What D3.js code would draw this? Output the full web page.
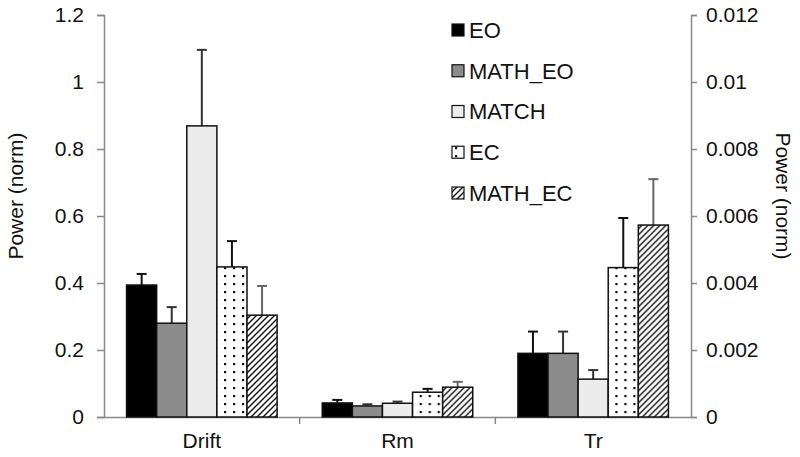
<!DOCTYPE html>
<html>
<head>
<meta charset="utf-8">
<script src="https://cdn.jsdelivr.net/npm/d3@7"></script>
<style>
  body { margin: 0; background: #fff; }
  svg { display: block; font-family: "Liberation Sans", Arial, sans-serif; }
</style>
</head>
<body>
<svg id="chart" width="800" height="457"></svg>
<script>
const categories = ["Drift", "Rm", "Tr"];
const series = ["EO", "MATH_EO", "MATCH", "EC", "MATH_EC"];
const axisSide = ["left", "left", "right"];
const driftValues = [0.394, 0.28, 0.869, 0.448, 0.304];
const driftErrors = [0.033, 0.048, 0.227, 0.077, 0.087];
const rmValues = [0.042, 0.033, 0.041, 0.074, 0.089];
const rmErrors = [0.009, 0.005, 0.005, 0.010, 0.016];
const trValues = [0.0019, 0.0019, 0.00113, 0.00446, 0.00573];
const trErrors = [0.00065, 0.00065, 0.00027, 0.00148, 0.00137];
const leftTicks = [0, 0.2, 0.4, 0.6, 0.8, 1, 1.2];
const rightTicks = [0, 0.002, 0.004, 0.006, 0.008, 0.01, 0.012];
const yTitle = "Power (norm)";

const values = [driftValues, rmValues, trValues];
const errors = [driftErrors, rmErrors, trErrors];

const svg = d3.select("#chart");
const mLeft = 104, mRight = 691, mTop = 15, mBottom = 417;

const x0 = d3.scaleBand().domain(categories).range([mLeft, mRight]).padding(0);
const x1 = d3.scaleBand().domain(series).range([0, x0.bandwidth()]).paddingInner(0).paddingOuter(0.75);
const yL = d3.scaleLinear().domain([0, 1.2]).range([mBottom, mTop]);
const yR = d3.scaleLinear().domain([0, 0.012]).range([mBottom, mTop]);

// patterns
const defs = svg.append("defs");
const dots = defs.append("pattern").attr("id", "dots").attr("patternUnits", "userSpaceOnUse")
  .attr("width", 9).attr("height", 8);
dots.append("rect").attr("width", 9).attr("height", 8).attr("fill", "#fff");
dots.append("rect").attr("x", 3).attr("y", 3).attr("width", 2.2).attr("height", 2.2).attr("fill", "#111");
const hatch = defs.append("pattern").attr("id", "hatch").attr("patternUnits", "userSpaceOnUse")
  .attr("width", 6).attr("height", 6);
hatch.append("rect").attr("width", 6).attr("height", 6).attr("fill", "#fff");
hatch.append("path").attr("d", "M-1,7 L7,-1 M-4,4 L4,-4 M2,10 L10,2").attr("stroke", "#111").attr("stroke-width", 1.4);

const fills = {EO: "#000", MATH_EO: "#8c8c8c", MATCH: "#ececec", EC: "url(#dots)", MATH_EC: "url(#hatch)"};
const errColor = {EO: "#111", MATH_EO: "#333", MATCH: "#333", EC: "#111", MATH_EC: "#666"};

const fontSize = 21;

// axes
const gL = svg.append("g").attr("transform", `translate(${mLeft},0)`)
  .call(d3.axisLeft(yL).tickValues(leftTicks).tickSize(7).tickPadding(13).tickFormat(d => d3.format("~g")(d)));
const gR = svg.append("g").attr("transform", `translate(${mRight},0)`)
  .call(d3.axisRight(yR).tickValues(rightTicks).tickSize(6).tickPadding(9).tickFormat(d => d === 0 ? "0" : d3.format("~g")(d)));
[gL, gR].forEach(g => {
  g.select(".domain").attr("stroke", "#888").attr("stroke-width", 1.5);
  g.selectAll(".tick line").attr("stroke", "#888").attr("stroke-width", 1.5);
  g.selectAll(".tick text").attr("font-size", fontSize).attr("fill", "#111")
    .attr("font-family", "Liberation Sans, Arial, sans-serif");
});

// x baseline and category ticks
const gX = svg.append("g").attr("transform", `translate(0,${mBottom})`)
  .call(d3.axisBottom(x0).tickSize(0).tickPadding(16));
gX.select(".domain").attr("stroke", "#888").attr("stroke-width", 1.5);
gX.selectAll(".tick text").attr("font-size", fontSize).attr("fill", "#111")
  .attr("font-family", "Liberation Sans, Arial, sans-serif");
svg.append("g").selectAll("line").data(categories.slice(1)).join("line")
  .attr("x1", d => x0(d)).attr("x2", d => x0(d))
  .attr("y1", mBottom).attr("y2", mBottom + 7)
  .attr("stroke", "#888").attr("stroke-width", 1.5);

// bars
categories.forEach((cat, ci) => {
  const y = axisSide[ci] === "left" ? yL : yR;
  const g = svg.append("g").attr("transform", `translate(${x0(cat)},0)`);
  const data = series.map((s, si) => ({s, v: values[ci][si], e: errors[ci][si]}));
  g.selectAll("line.err").data(data).join("line").attr("class", "err")
    .attr("x1", d => x1(d.s) + x1.bandwidth() / 2).attr("x2", d => x1(d.s) + x1.bandwidth() / 2)
    .attr("y1", d => y(d.v)).attr("y2", d => y(d.v + d.e))
    .attr("stroke", d => errColor[d.s]).attr("stroke-width", 2);
  g.selectAll("line.cap").data(data).join("line").attr("class", "cap")
    .attr("x1", d => x1(d.s) + x1.bandwidth() / 2 - 5).attr("x2", d => x1(d.s) + x1.bandwidth() / 2 + 5)
    .attr("y1", d => y(d.v + d.e)).attr("y2", d => y(d.v + d.e))
    .attr("stroke", d => errColor[d.s]).attr("stroke-width", 2);
  g.selectAll("rect").data(data).join("rect")
    .attr("x", d => x1(d.s)).attr("width", x1.bandwidth())
    .attr("y", d => y(d.v)).attr("height", d => mBottom - y(d.v))
    .attr("fill", d => fills[d.s]).attr("stroke", "#111").attr("stroke-width", 1.5);
});

// legend
const leg = svg.append("g").attr("transform", "translate(452,0)");
const legY = d3.scalePoint().domain(series).range([30, 193]);
leg.selectAll("rect").data(series).join("rect")
  .attr("x", 0).attr("y", d => legY(d) - 6).attr("width", 12).attr("height", 12)
  .attr("fill", d => fills[d]).attr("stroke", "#111").attr("stroke-width", 1.2);
leg.selectAll("text").data(series).join("text")
  .attr("x", 17).attr("y", d => legY(d)).attr("dy", "0.36em")
  .attr("font-size", 22).attr("fill", "#111").text(d => d);

// axis titles
svg.append("text").attr("transform", "translate(23,196) rotate(-90)")
  .attr("text-anchor", "middle").attr("font-size", fontSize).attr("fill", "#111").text(yTitle);
svg.append("text").attr("transform", "translate(776,196) rotate(90)")
  .attr("text-anchor", "middle").attr("font-size", fontSize).attr("fill", "#111").text(yTitle);
</script>
</body>
</html>
